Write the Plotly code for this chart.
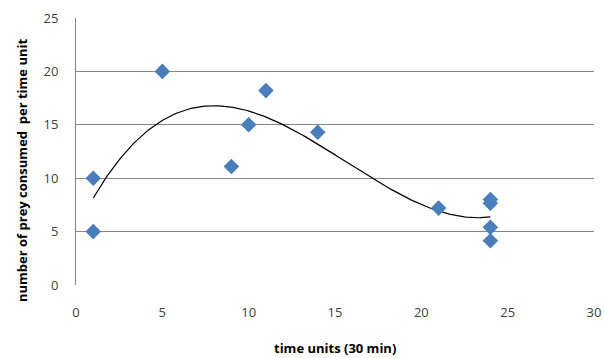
import numpy as np
import plotly.graph_objects as go

# Observations: time units (30 min) vs. prey consumed per time unit
time_units = [1, 1, 5, 9, 10, 11, 14, 21, 24, 24, 24, 24]
prey_consumed = [10.0, 5.0, 20.0, 11.1, 15.0, 18.2, 14.3, 7.2, 8.0, 7.65, 5.4, 4.15]

x_ticks = [0, 5, 10, 15, 20, 25, 30]
y_ticks = [0, 5, 10, 15, 20, 25]

# Third-order polynomial trendline fitted to the observations
coef = np.polyfit(time_units, prey_consumed, 3)
trend_x = np.linspace(min(time_units), max(time_units), 200)
trend_y = np.polyval(coef, trend_x)

fig = go.Figure()
fig.add_trace(go.Scatter(
    x=trend_x, y=trend_y, mode="lines",
    line=dict(color="black", width=1.2), hoverinfo="skip", showlegend=False,
))
fig.add_trace(go.Scatter(
    x=time_units, y=prey_consumed, mode="markers",
    marker=dict(symbol="diamond", size=12, color="#4A7EBB",
                line=dict(width=0)),
    showlegend=False,
))

tick_font = dict(family="Open Sans, sans-serif", size=13, color="#404040")
title_font = dict(family="Open Sans, sans-serif", size=13, color="black")

# Plot area in page pixels
L, R, T, B = 76, 594, 18, 285
W, H = 604, 358

fig.update_layout(
    width=W, height=H,
    margin=dict(l=L, r=W - R, t=T, b=H - B),
    paper_bgcolor="white", plot_bgcolor="white",
    xaxis=dict(range=[0, 30], tickvals=x_ticks, showgrid=False,
               zeroline=False, showline=False, tickfont=tick_font,
               ticks="", ticklabelstandoff=18, automargin=False),
    yaxis=dict(range=[0, 25], tickvals=y_ticks, showgrid=True,
               gridcolor="#868686", gridwidth=1, zeroline=False,
               showline=True, linecolor="#868686", linewidth=1,
               tickfont=tick_font, ticks="", ticklabelstandoff=14,
               automargin=False),
    annotations=[
        dict(text="<b>time units (30 min)</b>", xref="paper", yref="paper",
             x=(335 - L) / (R - L), y=-(348 - B) / (B - T),
             xanchor="center", yanchor="middle",
             showarrow=False, font=title_font),
        dict(text="<b>number of prey consumed  per time unit</b>",
             xref="paper", yref="paper",
             x=-(L - 22) / (R - L), y=(B - 171) / (B - T),
             xanchor="center", yanchor="middle", textangle=-90,
             showarrow=False, font=title_font),
    ],
)

fig.write_html("out.html")
